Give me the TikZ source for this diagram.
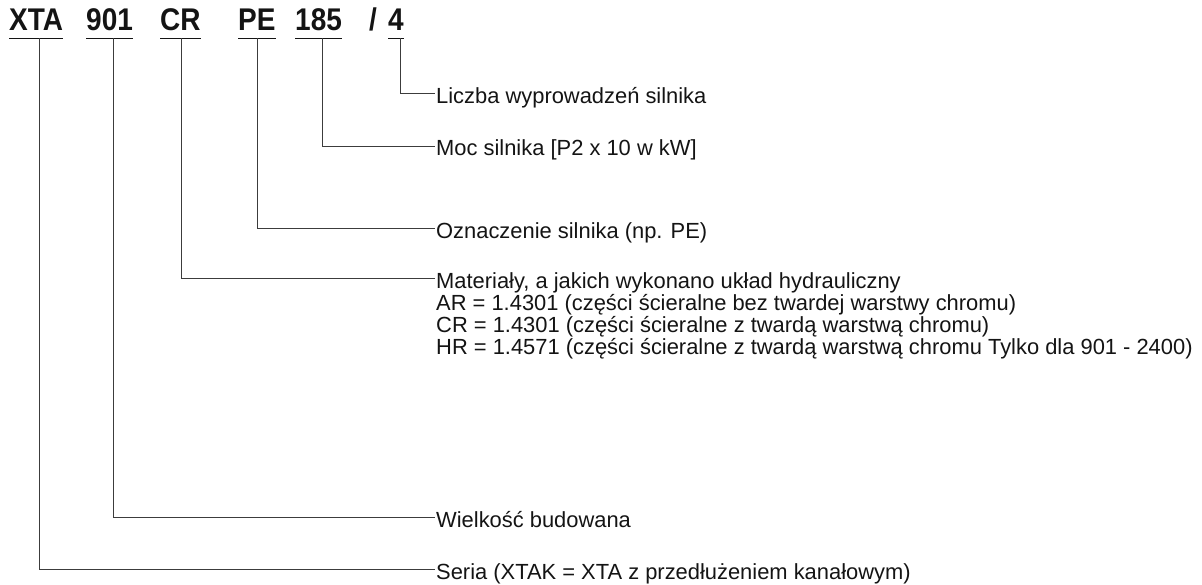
\documentclass[tikz,border=0pt]{standalone}
\usepackage{fontspec}
\setmainfont{Liberation Sans}
\usepackage{graphicx}
\usepackage{tikz}
\usetikzlibrary{positioning}

\definecolor{lineGray}{RGB}{60,60,60}
\definecolor{textBlack}{RGB}{20,20,20}

\newcommand{\tallcode}[1]{\scalebox{1}[1.12]{#1}}

\tikzset{
  code/.style={anchor=base west, inner sep=0pt, text=textBlack,
    font=\fontsize{28}{34}\selectfont\bfseries},
  uline/.style={draw=textBlack, line width=1.8pt},
  conn/.style={draw=lineGray, line width=0.9pt},
  lbl/.style={anchor=west, inner sep=1pt, text height=20pt, text depth=0pt,
    text=textBlack, font=\fontsize{21.9}{22}\selectfont},
}

\begin{document}
\begin{tikzpicture}[x=1pt,y=-1pt]
\useasboundingbox (0,0) rectangle (1202,585);

% Code letters
\node [code] (xta) at (9,31) {\tallcode{XTA}};
\node [code] (size) at (86,31) {\tallcode{901}};
\node [code] (mat) at (160,31) {\tallcode{CR}};
\node [code] (mot) at (238,31) {\tallcode{PE}};
\node [code] (pow) at (295,31) {\tallcode{185}};
\node [code] (slash) at (369,31) {\tallcode{/}};
\node [code] (wires) at (388,31) {\tallcode{4}};

% Underlines
\foreach \w in {xta,size,mat,mot,pow,wires}
  \draw [uline] ([yshift=-7.5pt]\w.base west) -- ([yshift=-7.5pt]\w.base east);

% Taps on the underlines
\coordinate (xta-t) at (39,38.5);
\coordinate (size-t) at (113.3,38.5);
\coordinate (mat-t) at (181,38.5);
\coordinate (mot-t) at (257.3,38.5);
\coordinate (pow-t) at (322.7,38.5);
\coordinate (wires-t) at (400.7,38.5);

% Text Node
\node [lbl] (wires-l) at (435,93.3) {Liczba wyprowadzeń silnika};
% Text Node
\node [lbl] (pow-l) at (435,146) {Moc silnika [P2 x 10 w kW]};
% Text Node
\node [lbl] (mot-l) at (435,228.7) {Oznaczenie silnika (np. PE)};
% Text Node
\node [lbl] (mat-l) at (435,278.3) {Materiały, a jakich wykonano układ hydrauliczny};
\node [lbl] (mat-ar) at (435,300.3) {AR = 1.4301 (części ścieralne bez twardej warstwy chromu)};
\node [lbl] (mat-cr) at (435,322.3) {CR = 1.4301 (części ścieralne z twardą warstwą chromu)};
\node [lbl] (mat-hr) at (435,344.3) {HR = 1.4571 (części ścieralne z twardą warstwą chromu Tylko dla 901 - 2400)};
% Text Node
\node [lbl] (size-l) at (435,517.7) {Wielkość budowana};
% Text Node
\node [lbl] (xta-l) at (435,569) {Seria (XTAK = XTA z przedłużeniem kanałowym)};

% Connectors
\draw [conn] (wires-t) |- (wires-l.west);
\draw [conn] (pow-t) |- (pow-l.west);
\draw [conn] (mot-t) |- (mot-l.west);
\draw [conn] (mat-t) |- (mat-l.west);
\draw [conn] (size-t) |- (size-l.west);
\draw [conn] (xta-t) |- (xta-l.west);

\end{tikzpicture}
\end{document}
